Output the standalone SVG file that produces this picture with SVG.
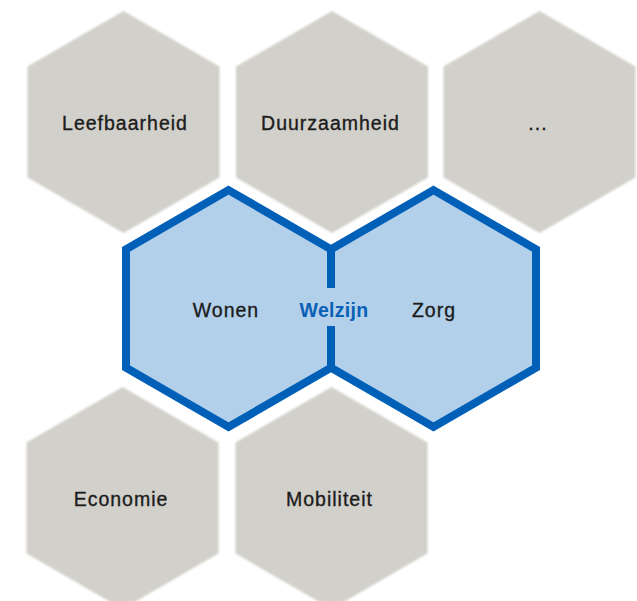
<svg xmlns="http://www.w3.org/2000/svg" width="637" height="601" viewBox="0 0 637 601">
<defs>
<style>
.g{fill:#d2d0ca;filter:url(#soft)}
.b{fill:#b3d0eb;stroke:#0060b8;stroke-width:8;stroke-linejoin:miter}
.t{font-family:"Liberation Sans",Arial,sans-serif;font-size:19.5px;letter-spacing:1px;fill:#1c1c1c;stroke:#1c1c1c;stroke-width:0.35px;text-anchor:middle}
.w{font-weight:bold;fill:#0a60b5;stroke:none;letter-spacing:0.3px}
</style>
<filter id="soft" x="-5%" y="-5%" width="110%" height="110%"><feGaussianBlur stdDeviation="1.3"/></filter>
<polygon id="hx" points="0,-111 96,-55.5 96,55.5 0,111 -96,55.5 -96,-55.5"/>
</defs>
<rect width="637" height="601" fill="#ffffff"/>
<g id="leefbaarheid"><use href="#hx" class="g" x="123.5" y="122"/><text class="t" x="125" y="130">Leefbaarheid</text></g>
<g id="duurzaamheid"><use href="#hx" class="g" x="332" y="122"/><text class="t" x="330.5" y="130">Duurzaamheid</text></g>
<g id="meer"><use href="#hx" class="g" x="539.5" y="122"/><text class="t" x="538" y="130">...</text></g>
<g id="economie"><use href="#hx" class="g" x="122.5" y="498"/><text class="t" x="121" y="506">Economie</text></g>
<g id="mobiliteit"><use href="#hx" class="g" x="331.5" y="498"/><text class="t" x="329.5" y="506">Mobiliteit</text></g>
<g id="wonen"><polygon class="b" points="228.5,190.1 331,249.3 331,367.7 228.5,426.9 126,367.7 126,249.3"/></g>
<g id="zorg"><polygon class="b" points="433.5,190.1 536,249.3 536,367.7 433.5,426.9 331,367.7 331,249.3"/></g>
<g id="connectors"></g>
<g id="labels">
<rect x="326" y="288" width="10" height="38" fill="#b3d0eb"/>
<text class="t" x="226" y="317">Wonen</text>
<text class="t w" x="334" y="317">Welzijn</text>
<text class="t" x="434" y="317">Zorg</text>
</g>
</svg>
